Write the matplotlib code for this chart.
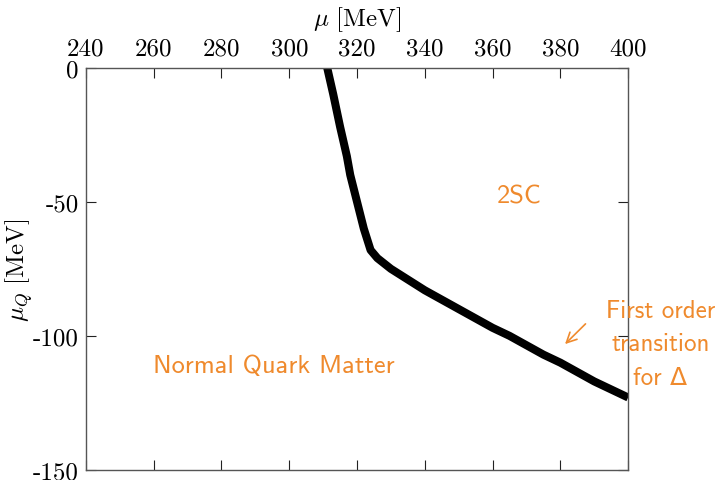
import matplotlib.pyplot as plt
import numpy as np

# phase boundary
mu = [311.2, 313, 315, 317, 318, 320, 322, 324, 326, 330, 335, 340, 345,
      350, 355, 360, 365, 370, 375, 380, 385, 390, 395, 400]
mu_q = [0, -10, -22, -33, -40, -50, -60, -68, -71, -75, -79, -83, -86.5,
        -90, -93.5, -97, -100, -103.5, -107, -110, -113.5, -117, -120, -123]

xticks = [240, 260, 280, 300, 320, 340, 360, 380, 400]
yticks = [0, -50, -100, -150]
ytick_labels = ["0", "-50", "-100", "-150"]

orange = "#ef8a2d"
plt.rcParams["mathtext.fontset"] = "cm"

fig = plt.figure(figsize=(7.22, 4.81), dpi=100)
ax = fig.add_axes([0.119, 0.021, 0.751, 0.836])
ax.plot(mu, mu_q, color="black", lw=5.8, solid_capstyle="butt")
ax.set_xlim(240, 400)
ax.set_ylim(-150, 0)

ax.xaxis.tick_top()
ax.xaxis.set_label_position("top")
ax.set_xticks(xticks)
ax.set_xticklabels([str(t) for t in xticks], fontfamily="cmr10", fontsize=18)
ax.set_yticks(yticks)
ax.set_yticklabels(ytick_labels, fontfamily="cmr10", fontsize=18)
ax.tick_params(direction="in", length=7, width=0.8, top=True, bottom=True,
               left=True, right=True, color="#222222")
ax.tick_params(axis="x", pad=6)
ax.tick_params(axis="y", pad=5)
for s in ax.spines.values():
    s.set_color("#555555")
    s.set_linewidth(1.0)

ax.set_xlabel(r"$\mu\ \mathrm{[MeV]}$", fontsize=18)
ax.xaxis.set_label_coords(0.5, 1.105)
ax.set_ylabel(r"$\mu_Q\ \mathrm{[MeV]}$", fontsize=18)
ax.yaxis.set_label_coords(-0.094, 0.5)

ax.text(368, -48, "2SC", color=orange, fontsize=19, fontfamily="cmss10",
        ha="center", va="center")
ax.text(295.5, -111, "Normal Quark Matter", color=orange, fontsize=19,
        fontfamily="cmss10", ha="center", va="center")
ax.text(409.5, -103, "First order\ntransition\nfor Δ", color=orange,
        fontsize=18, family=["cmss10", "DejaVu Sans"], ha="center",
        va="center", linespacing=1.6, clip_on=False)
ax.annotate("", xy=(380.8, -103.8), xytext=(388, -94.8),
            arrowprops=dict(arrowstyle="->", color=orange, lw=1.2,
                            mutation_scale=18))

fig.savefig("out.png", dpi=100)
